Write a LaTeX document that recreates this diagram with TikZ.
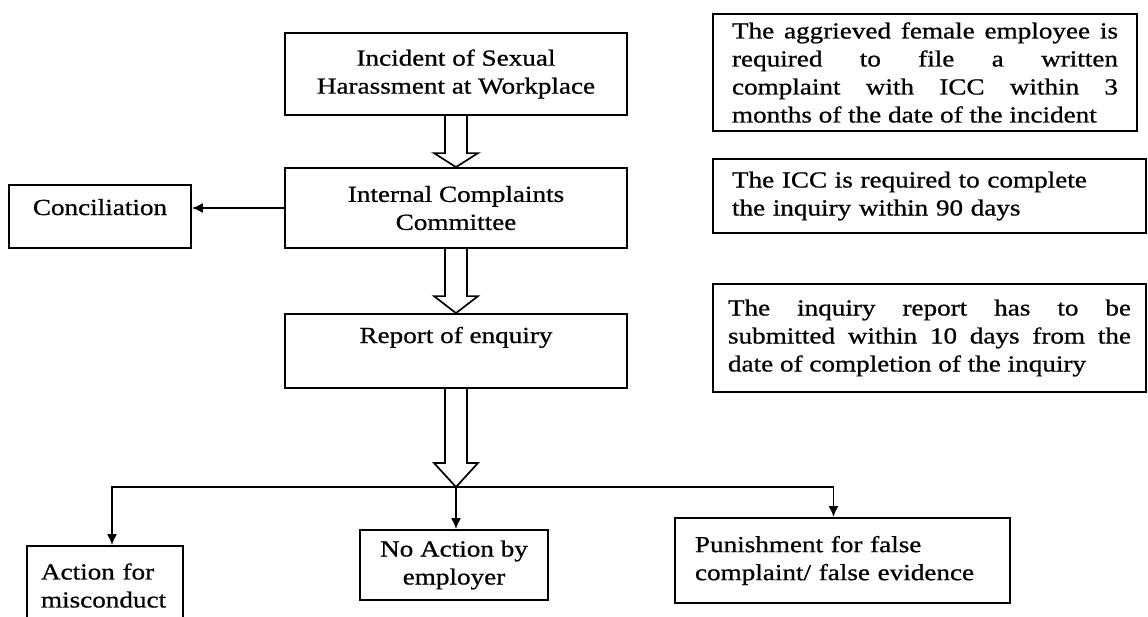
\documentclass[tikz,border=0pt]{standalone}
\usepackage{fontspec}
\setmainfont{Liberation Serif}[FakeStretch=1.18,FakeBold=0.8]
\usetikzlibrary{arrows.meta,calc}
\tikzset{
  box/.style={draw, line width=1.8pt, inner sep=0pt, font=\fontsize{23}{28}\selectfont},
  conn/.style={line width=1.7pt, -{Latex[length=11pt,width=10pt]}},
  hollow/.style={draw, line width=1.7pt, line join=miter},
}
\newcommand\hollowarr[3]{%
  \draw[hollow] ([xshift=-11pt]#1.south) -- ([xshift=-11pt,yshift=#3]#2) -- ([xshift=-22pt,yshift=#3]#2) -- (#2) -- ([xshift=22pt,yshift=#3]#2) -- ([xshift=11pt,yshift=#3]#2) -- ([xshift=11pt]#1.south);}
\begin{document}
\begin{tikzpicture}[x=1pt,y=-1pt]
\useasboundingbox (0,0) rectangle (1148,616);
\clip (0,0) rectangle (1148,616);
\hyphenpenalty=10000
% main flow
\node[box, minimum width=342pt, minimum height=82pt, align=center] (inc) at (456,74) {Incident of Sexual\\Harassment at Workplace};
\node[box, minimum width=342pt, minimum height=80pt, align=center] (icc) at (456,208) {Internal Complaints\\Committee};
\node[box, minimum width=342pt, text height=29pt, text depth=45pt] (rep) at (456,351) {Report of enquiry};
\node[box, minimum width=182pt, text height=30pt, text depth=33pt] (conc) at (100,216.5) {Conciliation};
% outcomes
\node[box, text width=128pt, inner xsep=14pt, minimum height=79pt, align=left] (act) at (105,585.5) {Action for\\misconduct};
\node[box, minimum width=188pt, minimum height=70pt, align=center] (noa) at (454,565) {No Action by\\employer};
\node[box, text width=295pt, inner xsep=20pt, minimum height=85pt, align=left] (pun) at (842.5,560.5) {Punishment for false\\complaint/ false evidence};
% notes
\node[box, text width=386pt, inner xsep=19pt, minimum height=117pt, align=justify] (na) at (925,72.5) {The aggrieved female employee is\linebreak required to file a written\linebreak complaint with ICC within 3\linebreak months of the date of the incident};
\node[box, text width=395pt, inner xsep=19pt, minimum height=74pt, align=left] (nb) at (929.5,196) {The ICC is required to complete\\the inquiry within 90 days};
\node[box, text width=403pt, inner xsep=15pt, minimum height=108pt, align=justify] (nc) at (929.5,338) {The inquiry report has to be\linebreak submitted within 10 days from the\linebreak date of completion of the inquiry};
% connectors
\coordinate (j) at (456,487);
\hollowarr{inc}{icc.north}{14pt}
\hollowarr{icc}{rep.north}{17pt}
\hollowarr{rep}{j}{24pt}
\draw[conn] (icc.west) -- (conc.east |- icc.west);
\draw[conn] (j) -| ([xshift=7pt]act.north);
\draw[conn] (j) -- (j |- noa.north);
\draw[conn] (j) -| ([xshift=-9pt]pun.north);
\end{tikzpicture}
\end{document}
